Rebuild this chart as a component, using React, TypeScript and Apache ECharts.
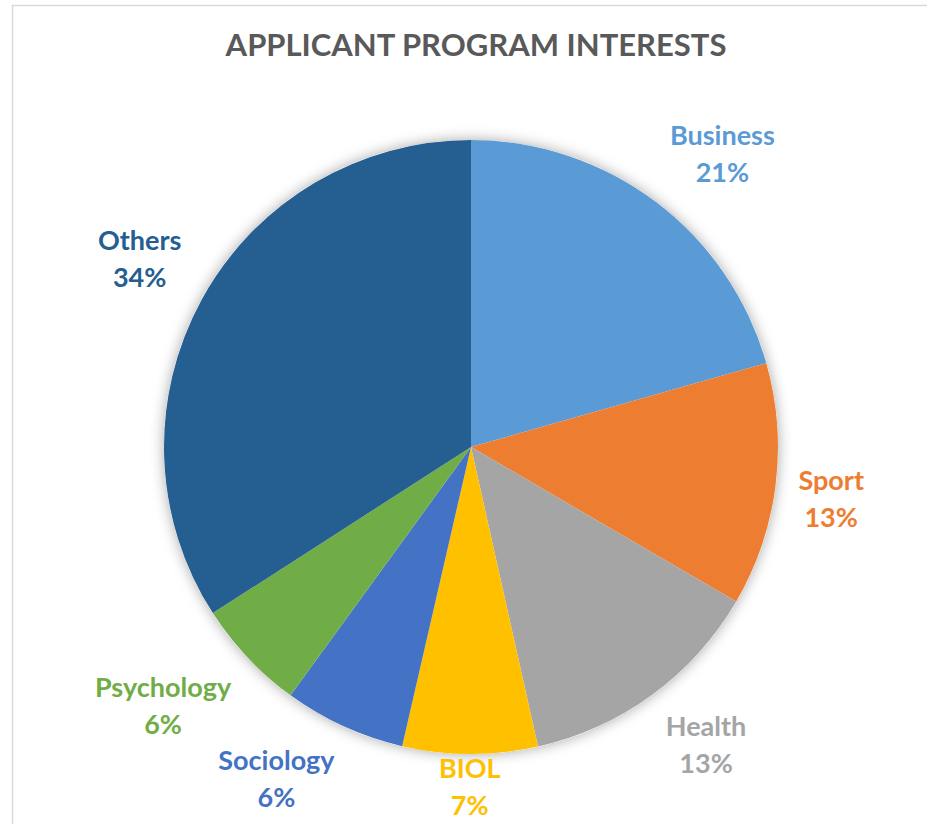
import React, { useEffect, useRef } from "react";
import * as echarts from "echarts";

const titleText = "APPLICANT PROGRAM INTERESTS";
const categories = ["Business", "Sport", "Health", "BIOL", "Sociology", "Psychology", "Others"];
const values = [20.6, 12.8, 13.1, 7.1, 6.4, 5.9, 34.1];
const colors = ["#5B9BD5", "#ED7D31", "#A5A5A5", "#FFC000", "#4472C4", "#70AD47", "#255E91"];

const CX = 471;
const CY = 447;
const R = 307;
const LABEL_GAP = 23;
const BOTTOM_LIMIT = 817;

export default function App() {
  const ref = useRef<HTMLDivElement>(null);
  useEffect(() => {
    const chart = echarts.init(ref.current!, null, { renderer: "svg" });
    const total = values.reduce((a, b) => a + b, 0);
    const mids: number[] = [];
    let acc = 0;
    values.forEach((v) => {
      mids.push(((acc + v / 2) / total) * 2 * Math.PI);
      acc += v;
    });
    const f = (t: number) => Math.max(-1, Math.min(1, t * 2.4));
    chart.setOption({
      animation: false,
      backgroundColor: "#ffffff",
      title: {
        text: titleText,
        left: CX,
        textAlign: "center",
        top: 23,
        textStyle: {
          fontFamily: "Lato",
          fontWeight: "bold",
          fontSize: 31,
          color: "#595959",
        },
      },
      graphic: [
        {
          type: "rect",
          silent: true,
          z: -10,
          shape: { x: 12.5, y: 5.5, width: 1400, height: 1400 },
          style: { fill: "none", stroke: "#d9d9d9", lineWidth: 1.5 },
        },
      ],
      series: [
        {
          type: "pie",
          center: [CX, CY],
          radius: R,
          silent: true,
          z: 1,
          label: { show: false },
          labelLine: { show: false },
          data: [
            {
              value: total,
              name: "",
              itemStyle: {
                color: "#ffffff",
                shadowBlur: 14,
                shadowColor: "rgba(0,0,0,0.35)",
              },
            },
          ],
        },
        {
          type: "pie",
          center: [CX, CY],
          radius: R,
          z: 2,
          startAngle: 90,
          clockwise: true,
          percentPrecision: 0,
          avoidLabelOverlap: false,
          itemStyle: { borderWidth: 0 },
          label: {
            show: true,
            position: "outside",
            formatter: "{b}\n{d}%",
            fontFamily: "Lato",
            fontWeight: "bold",
            fontSize: 27,
            lineHeight: 37,
            align: "center",
          },
          labelLine: { show: false },
          labelLayout: (p: any) => {
            const a = mids[p.dataIndex];
            const ux = Math.sin(a);
            const uy = -Math.cos(a);
            const w = p.labelRect.width;
            const h = p.labelRect.height - 12;
            const x = CX + ux * (R + LABEL_GAP) + (w / 2) * f(ux);
            let y = CY + uy * (R + LABEL_GAP) + (h / 2) * f(uy);
            if (y + h / 2 > BOTTOM_LIMIT) y = BOTTOM_LIMIT - h / 2;
            return { x, y, align: "center", verticalAlign: "middle" };
          },
          data: categories.map((name, i) => ({
            name,
            value: values[i],
            itemStyle: { color: colors[i] },
            label: { color: colors[i] },
          })),
        },
      ],
    });
    return () => chart.dispose();
  }, []);
  return (
    <div
      ref={ref}
      style={{ position: "fixed", left: 0, top: 0, width: 927, height: 824 }}
    />
  );
}
